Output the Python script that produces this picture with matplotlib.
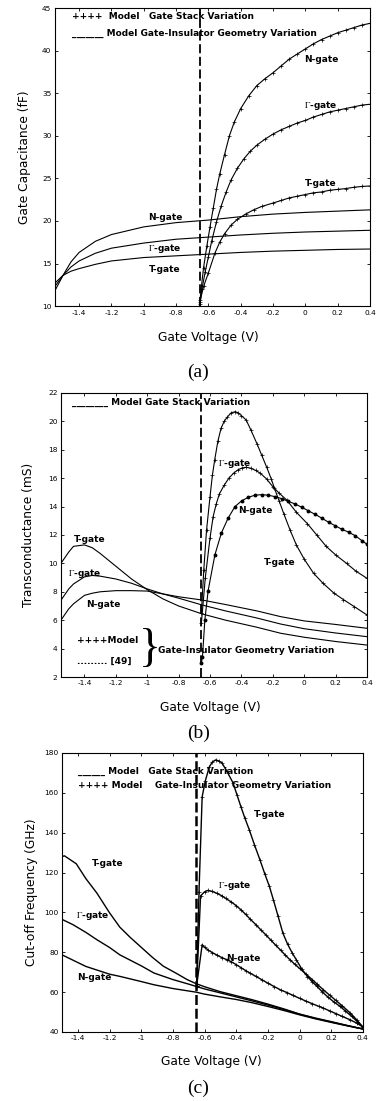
import matplotlib
matplotlib.use('Agg')
import matplotlib.pyplot as plt

plt.rcParams['font.family'] = 'DejaVu Sans'
plt.rcParams['mathtext.fontset'] = 'stix'
plt.rcParams['axes.unicode_minus'] = False

# ---------------- (a) gate capacitance ----------------
a_geo_v = [-1.55, -1.5, -1.45, -1.4, -1.3, -1.2, -1.0, -0.8, -0.6, -0.4, -0.2, 0, 0.2, 0.4]
a_geo_n = [11.8, 13.6, 15.2, 16.3, 17.6, 18.4, 19.3, 19.8, 20.1, 20.5, 20.8, 21.0, 21.15, 21.3]
a_geo_g = [12.3, 13.6, 14.6, 15.3, 16.2, 16.8, 17.4, 17.85, 18.1, 18.35, 18.55, 18.7, 18.8, 18.9]
a_geo_t = [12.7, 13.6, 14.1, 14.4, 14.9, 15.3, 15.7, 15.9, 16.1, 16.3, 16.45, 16.55, 16.65, 16.7]

a_stk_n_v = [-0.655, -0.645, -0.63, -0.61, -0.59, -0.57, -0.55, -0.53, -0.5, -0.47, -0.44, -0.4,
             -0.35, -0.3, -0.25, -0.2, -0.15, -0.1, -0.05, 0, 0.05, 0.1, 0.15, 0.2, 0.25, 0.3, 0.35, 0.4]
a_stk_n = [10.0, 12.0, 14.5, 17.0, 19.3, 21.5, 23.7, 25.5, 27.8, 30.0, 31.6, 33.2,
           34.7, 35.9, 36.7, 37.4, 38.2, 39.0, 39.6, 40.2, 40.8, 41.3, 41.7, 42.1, 42.4, 42.7, 43.0, 43.2]
a_stk_g_v = [-0.65, -0.64, -0.62, -0.6, -0.58, -0.55, -0.52, -0.49, -0.46, -0.42, -0.38, -0.34, -0.3,
             -0.25, -0.2, -0.15, -0.1, -0.05, 0, 0.05, 0.1, 0.15, 0.2, 0.25, 0.3, 0.35, 0.4]
a_stk_g = [10.5, 12.0, 14.0, 15.8, 17.6, 19.9, 21.8, 23.4, 24.8, 26.2, 27.3, 28.2, 28.9,
           29.6, 30.2, 30.7, 31.1, 31.5, 31.8, 32.2, 32.5, 32.8, 33.0, 33.2, 33.4, 33.6, 33.7]
a_stk_t_v = [-0.655, -0.65, -0.63, -0.6, -0.56, -0.53, -0.5, -0.46, -0.42, -0.37, -0.32, -0.27, -0.2,
             -0.15, -0.1, -0.05, 0, 0.05, 0.1, 0.15, 0.2, 0.25, 0.3, 0.35, 0.4]
a_stk_t = [10.3, 10.7, 12.3, 13.9, 16.2, 17.5, 18.5, 19.5, 20.2, 20.8, 21.3, 21.7, 22.1,
           22.4, 22.7, 22.9, 23.1, 23.3, 23.4, 23.6, 23.7, 23.8, 23.95, 24.05, 24.1]

# ---------------- (b) transconductance ----------------
b_geo_v = [-1.55, -1.5, -1.47, -1.4, -1.35, -1.3, -1.2, -1.1, -1.0, -0.9, -0.8, -0.65, -0.5, -0.3, -0.15, 0, 0.2, 0.4]
b_geo_n = [6.0, 6.8, 7.15, 7.75, 7.9, 8.0, 8.08, 8.08, 8.05, 7.85, 7.65, 7.42, 7.1, 6.65, 6.25, 5.95, 5.7, 5.43]
b_geo_g = [7.4, 8.2, 8.55, 9.05, 9.15, 9.1, 8.9, 8.6, 8.2, 7.85, 7.55, 7.07, 6.65, 6.15, 5.73, 5.4, 5.1, 4.84]
b_geo_t = [10.0, 10.8, 11.2, 11.3, 11.1, 10.7, 9.8, 8.9, 8.15, 7.5, 7.0, 6.44, 6.0, 5.5, 5.08, 4.8, 4.5, 4.25]

b_stk_t_v = [-0.655, -0.64, -0.622, -0.6, -0.585, -0.57, -0.55, -0.53, -0.51, -0.49, -0.465, -0.44, -0.42,
             -0.4, -0.37, -0.34, -0.3, -0.27, -0.24, -0.21, -0.19, -0.16, -0.13, -0.09, -0.05, 0,
             0.06, 0.12, 0.19, 0.25, 0.32, 0.4]
b_stk_t = [6.5, 9.5, 12.35, 14.7, 16.2, 17.3, 18.6, 19.5, 20.0, 20.3, 20.6, 20.68, 20.6,
           20.4, 20.1, 19.4, 18.4, 17.6, 16.8, 15.95, 15.3, 14.4, 13.5, 12.35, 11.3, 10.3,
           9.3, 8.6, 7.9, 7.45, 6.95, 6.37]
b_stk_g_v = [-0.655, -0.63, -0.6, -0.58, -0.56, -0.54, -0.51, -0.48, -0.45, -0.42, -0.395, -0.37, -0.34,
             -0.31, -0.28, -0.24, -0.2, -0.16, -0.11, -0.05, 0.02, 0.08, 0.14, 0.2, 0.27, 0.33, 0.4]
b_stk_g = [5.8, 9.0, 11.8, 13.3, 14.2, 14.9, 15.5, 16.0, 16.35, 16.6, 16.72, 16.77, 16.7,
           16.55, 16.35, 15.95, 15.4, 14.95, 14.45, 13.6, 12.8, 12.0, 11.2, 10.6, 10.0, 9.45, 8.95]
b_stk_n_v = [-0.655, -0.648, -0.633, -0.612, -0.569, -0.527, -0.484, -0.441, -0.399, -0.357, -0.314,
             -0.271, -0.229, -0.186, -0.144, -0.101, -0.058, -0.015, 0.027, 0.07, 0.113, 0.155,
             0.198, 0.24, 0.283, 0.325, 0.368, 0.4]
b_stk_n = [3.0, 3.43, 6.0, 8.08, 10.6, 12.16, 13.2, 14.0, 14.4, 14.65, 14.8,
           14.84, 14.8, 14.7, 14.56, 14.37, 14.18, 13.95, 13.7, 13.45, 13.18, 12.9,
           12.65, 12.4, 12.2, 11.95, 11.6, 11.35]

# ---------------- (c) cut-off frequency ----------------
c_stk_t_v = [-1.5, -1.485, -1.41, -1.35, -1.28, -1.2, -1.135, -1.07, -1.0, -0.93, -0.86, -0.78, -0.71,
             -0.655, -0.6, -0.5, -0.4, -0.3, -0.2, -0.1, 0, 0.1, 0.2, 0.3, 0.4]
c_stk_t = [128.0, 128.4, 124.4, 117.0, 109.7, 99.8, 92.6, 87.5, 82.5, 77.5, 73.0, 69.5, 66.3,
           64.3, 62.7, 60.2, 58.2, 56.2, 54.0, 51.6, 49.0, 47.0, 45.2, 43.3, 41.5]
c_stk_g_v = [-1.5, -1.43, -1.35, -1.28, -1.2, -1.135, -1.0, -0.92, -0.8, -0.7, -0.655, -0.6, -0.5,
             -0.4, -0.3, -0.2, -0.1, 0, 0.1, 0.2, 0.3, 0.4]
c_stk_g = [96.5, 93.8, 90.0, 86.3, 82.4, 78.7, 73.2, 69.6, 66.3, 64.0, 62.9, 61.6, 59.6,
           57.6, 55.6, 53.5, 51.3, 48.9, 46.8, 45.0, 43.2, 41.5]
c_stk_n_v = [-1.5, -1.35, -1.2, -1.135, -1.0, -0.92, -0.8, -0.655, -0.6, -0.5, -0.4, -0.3, -0.2,
             -0.1, 0, 0.1, 0.2, 0.3, 0.4]
c_stk_n = [78.7, 72.9, 69.0, 67.9, 65.3, 63.7, 61.8, 60.0, 59.0, 57.6, 56.3, 54.7, 52.8,
           50.8, 48.6, 46.6, 44.8, 43.1, 41.5]

c_geo_t_v = [-0.65, -0.635, -0.615, -0.595, -0.57, -0.55, -0.53, -0.51, -0.49, -0.46, -0.42, -0.395,
             -0.37, -0.345, -0.317, -0.285, -0.25, -0.22, -0.19, -0.165, -0.135, -0.105, -0.075,
             -0.045, -0.02, 0.015, 0.05, 0.08, 0.11, 0.145, 0.18, 0.215, 0.255, 0.29, 0.33, 0.365, 0.4]
c_geo_t = [63, 110, 158, 166, 173, 175.5, 176.5, 176, 175, 171, 165, 159,
           153, 147.3, 141.4, 134, 126.4, 119.5, 113, 106.3, 98, 89.6, 84,
           79.5, 76.2, 71.5, 67.8, 65.2, 62.9, 60.0, 57.5, 55.2, 52.9, 50.5, 47.8, 45.2, 42.5]
c_geo_g_v = [-0.65, -0.625, -0.6, -0.58, -0.55, -0.52, -0.49, -0.466, -0.43, -0.4, -0.37, -0.34, -0.31,
             -0.275, -0.245, -0.21, -0.18, -0.15, -0.12, -0.09, -0.06, -0.03, 0.0, 0.04, 0.08, 0.11,
             0.15, 0.19, 0.23, 0.27, 0.32, 0.36, 0.4]
c_geo_g = [63, 108.3, 110.3, 111.0, 110.5, 109.5, 108.3, 107, 105.2, 103.4, 101.3, 99.0, 96.5,
           93.8, 91.3, 88.5, 86.0, 83.5, 81.1, 78.6, 76.2, 74.0, 71.9, 69.1, 66.3, 64.1,
           61.2, 58.5, 55.8, 53.1, 49.6, 46.2, 42.5]
c_geo_n_v = [-0.65, -0.615, -0.6, -0.575, -0.55, -0.52, -0.49, -0.46, -0.43, -0.4, -0.37, -0.34, -0.31,
             -0.275, -0.24, -0.2, -0.16, -0.12, -0.08, -0.04, 0.0, 0.04, 0.08, 0.12, 0.15, 0.19,
             0.23, 0.27, 0.32, 0.36, 0.4]
c_geo_n = [63, 83.8, 82.5, 81.0, 79.8, 78.5, 77.3, 76.3, 75.2, 73.8, 72.3, 70.8, 69.4,
           67.9, 66.3, 64.5, 62.8, 61.1, 59.8, 58.3, 56.9, 55.5, 54.2, 52.9, 52.0, 50.6,
           49.2, 47.8, 46.1, 44.5, 42.5]

v_th = -0.655
xticks_v = [-1.4, -1.2, -1, -0.8, -0.6, -0.4, -0.2, 0, 0.2, 0.4]
xtick_labels = ['-1.4', '-1.2', '-1', '-0.8', '-0.6', '-0.4', '-0.2', '0', '0.2', '0.4']

fig = plt.figure(figsize=(3.76, 11.01), dpi=100)

lw = 0.8
pk = dict(marker='+', ms=3, mew=0.5)
tfs = 6.5


def style(ax, xlim, ylim, yticks, ylabel, lab_x, lab_y, ylab_x):
    ax.set_xlim(*xlim)
    ax.set_ylim(*ylim)
    ax.set_xticks(xticks_v)
    ax.set_xticklabels(xtick_labels)
    ax.set_yticks(yticks)
    ax.set_yticklabels([str(t) for t in yticks])
    ax.tick_params(direction='in', top=True, right=True, length=2.5, width=0.6,
                   labelsize=5.3, pad=2.5)
    for s in ax.spines.values():
        s.set_linewidth(0.8)
    ax.set_xlabel('Gate Voltage (V)', fontsize=8.8)
    ax.xaxis.label.set_va('center')
    ax.xaxis.set_label_coords(lab_x, lab_y)
    ax.set_ylabel(ylabel, fontsize=8.8)
    ax.yaxis.set_label_coords(ylab_x, 0.5)


# (a)
ax = fig.add_axes([0.146, 0.722, 0.838, 0.2707])
ax.plot(a_geo_v, a_geo_n, 'k-', lw=lw)
ax.plot(a_geo_v, a_geo_g, 'k-', lw=lw)
ax.plot(a_geo_v, a_geo_t, 'k-', lw=lw)
ax.plot(a_stk_n_v, a_stk_n, 'k-', lw=lw, **pk)
ax.plot(a_stk_g_v, a_stk_g, 'k-', lw=lw, **pk)
ax.plot(a_stk_t_v, a_stk_t, 'k-', lw=lw, **pk)
ax.axvline(v_th, color='k', ls=(0, (5, 2)), lw=1.3)
style(ax, (-1.55, 0.4), (10, 45), [10, 15, 20, 25, 30, 35, 40, 45],
      'Gate Capacitance (fF)', 0.486, -0.104, -0.076)
ax.text(0.054, 0.97, '++++  Model   Gate Stack Variation', transform=ax.transAxes,
        fontsize=tfs, fontweight='bold', va='center')
ax.text(0.054, 0.916, '_______ Model Gate-Insulator Geometry Variation', transform=ax.transAxes,
        fontsize=tfs, fontweight='bold', va='center')
ax.text(0.099, 38.9, 'N-gate', fontsize=tfs, fontweight='bold', ha='center', va='center')
ax.text(0.094, 33.5, r'$\Gamma$-gate', fontsize=tfs, fontweight='bold', ha='center', va='center')
ax.text(0.094, 24.4, 'T-gate', fontsize=tfs, fontweight='bold', ha='center', va='center')
ax.text(-0.864, 20.4, 'N-gate', fontsize=tfs, fontweight='bold', ha='center', va='center')
ax.text(-0.87, 16.8, r'$\Gamma$-gate', fontsize=tfs, fontweight='bold', ha='center', va='center')
ax.text(-0.87, 14.3, 'T-gate', fontsize=tfs, fontweight='bold', ha='center', va='center')
fig.text(0.527, 1 - 372 / 1101, '(a)', family='Liberation Serif', fontsize=14, ha='center', va='center')

# (b)
ax = fig.add_axes([0.162, 0.3851, 0.814, 0.258])
ax.plot(b_geo_v, b_geo_n, 'k-', lw=lw)
ax.plot(b_geo_v, b_geo_g, 'k-', lw=lw)
ax.plot(b_geo_v, b_geo_t, 'k-', lw=lw)
ax.plot(b_stk_t_v, b_stk_t, 'k-', lw=lw, **pk)
ax.plot(b_stk_g_v, b_stk_g, 'k-', lw=lw, **pk)
ax.plot(b_stk_n_v, b_stk_n, 'k-', lw=lw, marker='o', ms=1.8, mfc='k', mec='k')
ax.axvline(v_th, color='k', ls=(0, (5, 2)), lw=1.3)
style(ax, (-1.55, 0.4), (2, 22), [2, 4, 6, 8, 10, 12, 14, 16, 18, 20, 22],
      'Transconductance (mS)', 0.487, -0.106, -0.085)
ax.text(0.036, 0.965, '________ Model Gate Stack Variation', transform=ax.transAxes,
        fontsize=tfs, fontweight='bold', va='center')
ax.text(0.052, 0.13, '++++Model', transform=ax.transAxes,
        fontsize=tfs, fontweight='bold', va='center')
ax.text(0.052, 0.054, '......... [49]', transform=ax.transAxes,
        fontsize=tfs, fontweight='bold', va='center')
ax.text(0.292, 0.095, '}', transform=ax.transAxes, fontsize=33, family='Liberation Serif',
        ha='center', va='center')
ax.text(0.318, 0.095, 'Gate-Insulator Geometry Variation', transform=ax.transAxes,
        fontsize=tfs, fontweight='bold', va='center')
ax.text(-1.368, 11.7, 'T-gate', fontsize=tfs, fontweight='bold', ha='center', va='center')
ax.text(-1.396, 9.3, r'$\Gamma$-gate', fontsize=tfs, fontweight='bold', ha='center', va='center')
ax.text(-1.279, 7.14, 'N-gate', fontsize=tfs, fontweight='bold', ha='center', va='center')
ax.text(-0.441, 17.0, r'$\Gamma$-gate', fontsize=tfs, fontweight='bold', ha='center', va='center')
ax.text(-0.314, 13.7, 'N-gate', fontsize=tfs, fontweight='bold', ha='center', va='center')
ax.text(-0.154, 10.08, 'T-gate', fontsize=tfs, fontweight='bold', ha='center', va='center')
fig.text(0.527, 1 - 733 / 1101, '(b)', family='Liberation Serif', fontsize=14, ha='center', va='center')

# (c)
ax = fig.add_axes([0.165, 0.0627, 0.80, 0.2534])
ax.plot(c_stk_t_v, c_stk_t, 'k-', lw=1.0)
ax.plot(c_stk_g_v, c_stk_g, 'k-', lw=1.0)
ax.plot(c_stk_n_v, c_stk_n, 'k-', lw=1.0)
ax.plot(c_geo_t_v, c_geo_t, 'k-', lw=1.0, **pk)
ax.plot(c_geo_g_v, c_geo_g, 'k-', lw=1.0, **pk)
ax.plot(c_geo_n_v, c_geo_n, 'k-', lw=1.0, **pk)
ax.axvline(v_th, color='k', ls=(0, (4, 1.5)), lw=1.8)
style(ax, (-1.5, 0.4), (40, 180), [40, 60, 80, 100, 120, 140, 160, 180],
      'Cut-off Frequency (GHz)', 0.498, -0.1075, -0.08)
ax.text(0.053, 0.933, '______ Model   Gate Stack Variation', transform=ax.transAxes,
        fontsize=tfs, fontweight='bold', va='center')
ax.text(0.053, 0.883, '++++ Model    Gate-Insulator Geometry Variation', transform=ax.transAxes,
        fontsize=tfs, fontweight='bold', va='center')
ax.text(-0.19, 148.9, 'T-gate', fontsize=tfs, fontweight='bold', ha='center', va='center')
ax.text(-0.408, 113.3, r'$\Gamma$-gate', fontsize=tfs, fontweight='bold', ha='center', va='center')
ax.text(-0.355, 77.1, 'N-gate', fontsize=tfs, fontweight='bold', ha='center', va='center')
ax.text(-1.209, 124.7, 'T-gate', fontsize=tfs, fontweight='bold', ha='center', va='center')
ax.text(-1.304, 98.3, r'$\Gamma$-gate', fontsize=tfs, fontweight='bold', ha='center', va='center')
ax.text(-1.294, 67.4, 'N-gate', fontsize=tfs, fontweight='bold', ha='center', va='center')
fig.text(0.527, 1 - 1088 / 1101, '(c)', family='Liberation Serif', fontsize=14, ha='center', va='center')

fig.savefig('out.png', dpi=100)
